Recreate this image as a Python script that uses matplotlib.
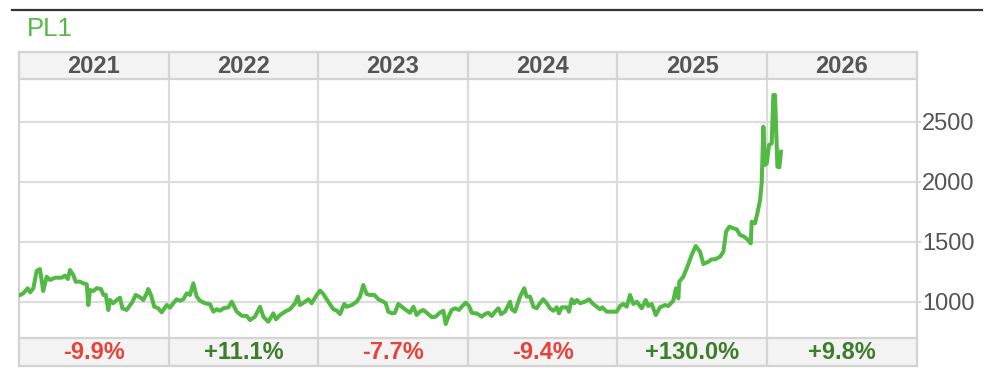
import matplotlib
matplotlib.use("Agg")
import matplotlib.pyplot as plt
from matplotlib.lines import Line2D

plt.rcParams['font.family'] = ['Liberation Sans', 'DejaVu Sans']

title = "PL1"
years = [2021, 2022, 2023, 2024, 2025, 2026]
year_changes = ["-9.9%", "+11.1%", "-7.7%", "-9.4%", "+130.0%", "+9.8%"]
yticks = [1000, 1500, 2000, 2500]

# dates as decimal years, prices in USD/oz
dates = [
    2021.007, 2021.029, 2021.058, 2021.074, 2021.096, 2021.118, 2021.140, 2021.162, 2021.185, 2021.207,
    2021.241, 2021.285, 2021.307, 2021.326, 2021.341, 2021.363, 2021.379, 2021.408, 2021.430, 2021.453,
    2021.463, 2021.475, 2021.497, 2021.519, 2021.548, 2021.564, 2021.580, 2021.597, 2021.608, 2021.630,
    2021.653, 2021.675, 2021.691, 2021.720, 2021.742, 2021.753, 2021.780, 2021.809, 2021.831, 2021.854,
    2021.864, 2021.882, 2021.904, 2021.931, 2021.954, 2021.987, 2022.009,
    2022.031, 2022.054, 2022.076, 2022.098, 2022.121, 2022.143, 2022.165, 2022.188, 2022.210, 2022.243,
    2022.277, 2022.299, 2022.321, 2022.344, 2022.366, 2022.399, 2022.422, 2022.455, 2022.489, 2022.522,
    2022.544, 2022.577, 2022.611, 2022.633, 2022.666, 2022.700, 2022.718, 2022.745, 2022.778, 2022.811,
    2022.845, 2022.863, 2022.878, 2022.912, 2022.934, 2022.956, 2022.990, 2023.012,
    2023.034, 2023.067, 2023.101, 2023.124, 2023.146, 2023.174, 2023.190, 2023.224, 2023.257, 2023.279,
    2023.301, 2023.324, 2023.346, 2023.375, 2023.402, 2023.435, 2023.451, 2023.468, 2023.495, 2023.513,
    2023.535, 2023.558, 2023.580, 2023.613, 2023.636, 2023.658, 2023.680, 2023.702, 2023.725, 2023.759,
    2023.785, 2023.807, 2023.836, 2023.852, 2023.870, 2023.892, 2023.914, 2023.941, 2023.959, 2023.986,
    2024.008, 2024.026, 2024.043,
    2024.059, 2024.093, 2024.115, 2024.137, 2024.160, 2024.182, 2024.204, 2024.222, 2024.248, 2024.282,
    2024.293, 2024.315, 2024.349, 2024.377, 2024.393, 2024.416, 2024.438, 2024.460, 2024.482, 2024.504,
    2024.527, 2024.549, 2024.571, 2024.594, 2024.609, 2024.627, 2024.661, 2024.676, 2024.694, 2024.712,
    2024.728, 2024.750, 2024.783, 2024.810, 2024.832, 2024.861, 2024.883, 2024.899, 2024.928, 2024.962,
    2024.995,
    2025.017, 2025.039, 2025.062, 2025.084, 2025.106, 2025.129, 2025.162, 2025.189, 2025.206, 2025.229,
    2025.256, 2025.284, 2025.318, 2025.340, 2025.373, 2025.391, 2025.407, 2025.413, 2025.440, 2025.463,
    2025.496, 2025.523, 2025.552, 2025.574, 2025.607, 2025.630, 2025.652, 2025.686, 2025.708,
    2025.726, 2025.748, 2025.774, 2025.797, 2025.819, 2025.846, 2025.868, 2025.891, 2025.897, 2025.919,
    2025.935, 2025.953, 2025.964, 2025.975, 2025.986, 2025.998, 2026.013, 2026.031, 2026.042, 2026.053,
    2026.069, 2026.082, 2026.093,
]
prices = [
    1056, 1070, 1112, 1078, 1112, 1256, 1272, 1089, 1208, 1181,
    1200, 1200, 1217, 1189, 1264, 1222, 1167, 1167, 1153, 1145,
    972, 1097, 1089, 1112, 1106, 1056, 1056, 931, 1014, 987,
    1014, 1033, 945, 931, 972, 987, 1056, 1037, 1014, 1070,
    1106, 1056, 958, 945, 911, 972, 950,
    987, 1020, 1008, 1020, 1070, 1056, 1153, 1042, 1008, 987,
    978, 917, 937, 925, 945, 953, 1000, 917, 883, 881,
    847, 875, 958, 875, 833, 903, 853, 889, 917, 937,
    987, 1042, 972, 1000, 1020, 987, 1056, 1092,
    1064, 1000, 937, 925, 897, 981, 958, 972, 1000, 1042,
    1139, 1064, 1056, 1056, 1020, 1000, 987, 917, 903, 908,
    981, 958, 937, 908, 958, 889, 917, 931, 908, 870,
    875, 903, 925, 814, 875, 931, 945, 931, 958, 992,
    964, 908, 903,
    903, 875, 897, 908, 881, 917, 945, 897, 917, 1000,
    937, 917, 1042, 1112, 1042, 1042, 958, 945, 987, 1020,
    987, 945, 925, 953, 903, 953, 953, 917, 1020, 987,
    1014, 987, 1000, 1020, 987, 958, 937, 953, 917, 917,
    917,
    964, 981, 958, 1056, 981, 1000, 945, 1014, 964, 981,
    889, 953, 972, 964, 1008, 1112, 1028, 1167, 1208, 1278,
    1389, 1464, 1417, 1314, 1333, 1353, 1353, 1375, 1417,
    1583, 1625, 1612, 1603, 1556, 1542, 1520, 1486, 1667, 1653,
    1736, 1847, 1986, 2458, 2139, 2153, 2306, 2319, 2722, 2722,
    2125, 2120, 2250,
]

W, H = 998, 380
fig = plt.figure(figsize=(W / 100, H / 100), dpi=100)

GREEN = '#52B944'
DARKGREEN = '#3D7E2B'
RED = '#E8433B'
GRAYTXT = '#555555'
BORDER = '#d3d3d3'
GRID = '#dcdcdc'
BAND = '#f3f3f3'

left = 19 / W
width = (916.7 - 19) / W
y_main_top = 79.3
y_main_bot = 337.7
y_head_top = 51.7
y_foot_bot = 366.0

def fy(px):
    return 1 - px / H

ax = fig.add_axes([left, fy(y_main_bot), width, (y_main_bot - y_main_top) / H])
axh = fig.add_axes([left, fy(y_main_top), width, (y_main_top - y_head_top) / H])
axf = fig.add_axes([left, fy(y_foot_bot), width, (y_foot_bot - y_main_bot) / H])

x0, x1 = years[0], years[-1] + 1

# main plot
ax.plot(dates, prices, color=GREEN, lw=2.9, solid_joinstyle='round', zorder=3)
ax.set_xlim(x0, x1)
ax.set_ylim(700, 2853)
ax.set_xticks([])
ax.yaxis.tick_right()
ax.set_yticks(yticks)
ax.set_yticklabels([str(v) for v in yticks])
ax.tick_params(axis='y', length=3, width=1.2, color='#cccccc', pad=1,
               labelsize=17, labelcolor=GRAYTXT)
for v in yticks:
    ax.axhline(v, color=GRID, lw=1.6, zorder=1)
for yr in years[1:]:
    ax.axvline(yr, color=GRID, lw=1.6, zorder=1)
for s in ['top', 'bottom']:
    ax.spines[s].set_visible(False)
for s in ['left', 'right']:
    ax.spines[s].set_color(BORDER)
    ax.spines[s].set_linewidth(1.6)

# header and footer bands
for a in (axh, axf):
    a.set_facecolor(BAND)
    a.set_xlim(x0, x1)
    a.set_ylim(0, 1)
    a.set_xticks([])
    a.set_yticks([])
    for s in a.spines.values():
        s.set_color(BORDER)
        s.set_linewidth(1.6)
    for yr in years[1:]:
        a.axvline(yr, color=BORDER, lw=1.6)

for yr in years:
    axh.text(yr + 0.5, 0.47, str(yr), ha='center', va='center', fontsize=17,
             fontweight='bold', color=GRAYTXT)

for yr, ch in zip(years, year_changes):
    col = RED if ch.startswith('-') else DARKGREEN
    axf.text(yr + 0.5, 0.47, ch, ha='center', va='center', fontsize=17,
             fontweight='bold', color=col)

# top rule and title
fig.add_artist(Line2D([12 / W, 982 / W], [fy(10), fy(10)], color='#333333', lw=1.6))
fig.text(27 / W, fy(29), title, ha='left', va='center', fontsize=18.5, color=GREEN)

fig.savefig('out.png', dpi=100)
